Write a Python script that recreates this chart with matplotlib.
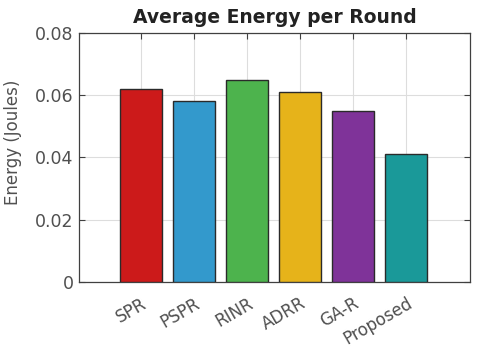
import matplotlib
matplotlib.use("Agg")
import matplotlib.pyplot as plt

categories = ["SPR", "PSPR", "RINR", "ADRR", "GA-R", "Proposed"]
values = [0.062, 0.058, 0.065, 0.061, 0.055, 0.041]
colors = ["#CC1A1A", "#3399CC", "#4DB34D", "#E6B31A", "#7F3399", "#1A9999"]
yticks = [0, 0.02, 0.04, 0.06, 0.08]
ytick_labels = ["0", "0.02", "0.04", "0.06", "0.08"]

plt.rcParams['font.family'] = ['DejaVu Sans']
fig = plt.figure(figsize=(4.8, 3.54), dpi=100)
ax = fig.add_axes([0.1646, 0.2034, 0.8144, 0.7036])

x = list(range(1, len(categories) + 1))
ax.bar(x, values, width=0.8, color=colors, edgecolor="#2a2a2a", linewidth=1.0, zorder=3)
ax.set_xlim(-0.17, 7.2)
ax.set_ylim(0, 0.08)
ax.set_xticks(x)
ax.set_xticklabels(categories, rotation=30, ha="right", rotation_mode="anchor",
                   fontsize=12, color="#505050")
ax.set_yticks(yticks)
ax.set_yticklabels(ytick_labels, fontsize=12.5, color="#505050")
ax.tick_params(direction="in", length=4, color="#404040", top=True, right=True, pad=4)
ax.tick_params(axis="x", pad=9)
ax.grid(True, color="#DDDDDD", linewidth=0.8, zorder=0)
for s in ax.spines.values():
    s.set_color("#404040")
    s.set_linewidth(0.9)
ax.set_ylabel("Energy (Joules)", fontsize=12, color="#505050")
ax.yaxis.set_label_coords(-0.146, 0.562)
ax.set_title("Average Energy per Round", fontsize=13.5, fontweight="bold", color="#222222", pad=7)
fig.savefig("out.png", dpi=100)
